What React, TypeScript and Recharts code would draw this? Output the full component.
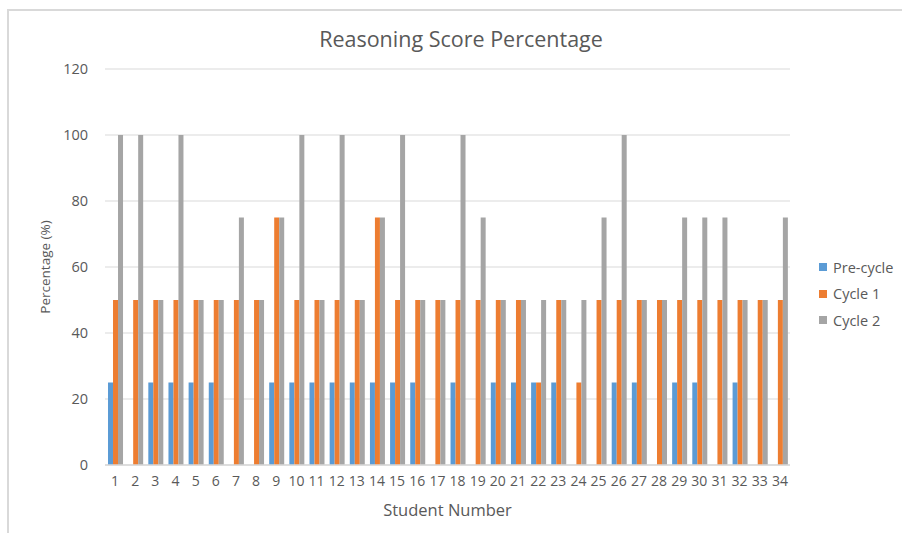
import React from 'react';
import { BarChart, Bar, XAxis, YAxis, CartesianGrid, Legend } from 'recharts';

const students = ['1','2','3','4','5','6','7','8','9','10','11','12','13','14','15','16','17','18','19','20','21','22','23','24','25','26','27','28','29','30','31','32','33','34'];
const preCycle = [25,0,25,25,25,25,0,0,25,25,25,25,25,25,25,25,0,25,0,25,25,25,25,0,0,25,25,0,25,25,0,25,0,0];
const cycle1 = [50,50,50,50,50,50,50,50,75,50,50,50,50,75,50,50,50,50,50,50,50,25,50,25,50,50,50,50,50,50,50,50,50,50];
const cycle2 = [100,100,50,100,50,50,75,50,75,100,50,100,50,75,100,50,50,100,75,50,50,50,50,50,75,100,50,50,75,75,75,50,50,75];
const yTicks = [0,20,40,60,80,100,120];
const seriesOrder = ['Pre-cycle', 'Cycle 1', 'Cycle 2'];

const data = students.map((s, i) => ({
  student: s,
  pre: preCycle[i],
  c1: cycle1[i],
  c2: cycle2[i],
}));

const FONT = '"Open Sans", "Liberation Sans", sans-serif';
const TXT = '#595959';

const renderLegend = (props: any) => {
  const payload = [...(props.payload || [])].sort(
    (a: any, b: any) => seriesOrder.indexOf(a.value) - seriesOrder.indexOf(b.value)
  );
  return (
    <div style={{ fontFamily: FONT, fontSize: 14.5, color: TXT }}>
      {payload.map((p: any) => (
        <div key={p.value} style={{ display: 'flex', alignItems: 'center', height: 26.5, whiteSpace: 'nowrap' }}>
          <span style={{ display: 'inline-block', width: 8, height: 8, background: p.color, marginRight: 6 }} />
          <span>{p.value}</span>
        </div>
      ))}
    </div>
  );
};

export default function App() {
  return (
    <div style={{ position: 'absolute', left: 0, top: 0, width: 902, height: 533, background: '#fff' }}>
      <div style={{ position: 'absolute', left: 7, top: 9, width: 895, height: 524, borderLeft: '2px solid #d9d9d9', borderTop: '2px solid #d9d9d9', boxSizing: 'border-box' }} />
      <div style={{ position: 'absolute', left: 0, top: 24, width: 922, textAlign: 'center', fontFamily: FONT, fontSize: 21.5, color: TXT }}>
        Reasoning Score Percentage
      </div>
      <div style={{ position: 'absolute', left: 0, top: 0 }}>
        <BarChart
          width={902}
          height={533}
          data={data}
          margin={{ top: 69, right: 22, left: 0, bottom: 0 }}
          barCategoryGap="15%"
          barGap={0}
        >
          <CartesianGrid vertical={false} stroke="#d9d9d9" strokeWidth={1} />
          <XAxis
            dataKey="student"
            interval={0}
            height={68}
            tickLine={false}
            tickSize={0}
            tickMargin={11}
            axisLine={{ stroke: '#d9d9d9', strokeWidth: 1.5 }}
            tick={{ fill: TXT, fontSize: 14, fontFamily: FONT }}
            label={{ value: 'Student Number', position: 'insideBottom', offset: 17, fill: TXT, fontSize: 16.5, fontFamily: FONT }}
          />
          <YAxis
            domain={[0, 120]}
            ticks={yTicks}
            width={105}
            tickLine={false}
            tickSize={0}
            tickMargin={17}
            axisLine={false}
            tick={{ fill: TXT, fontSize: 14.5, fontFamily: FONT }}
            label={{ value: 'Percentage (%)', angle: -90, position: 'insideLeft', offset: 45, fill: TXT, fontSize: 13.5, fontFamily: FONT, style: { textAnchor: 'middle' } }}
          />
          <Legend
            layout="vertical"
            align="right"
            verticalAlign="top"
            content={renderLegend}
            wrapperStyle={{ left: 819, top: 254, width: 90 }}
          />
          <Bar dataKey="pre" name="Pre-cycle" fill="#5B9BD5" isAnimationActive={false} />
          <Bar dataKey="c1" name="Cycle 1" fill="#ED7D31" isAnimationActive={false} />
          <Bar dataKey="c2" name="Cycle 2" fill="#A5A5A5" isAnimationActive={false} />
        </BarChart>
      </div>
    </div>
  );
}
